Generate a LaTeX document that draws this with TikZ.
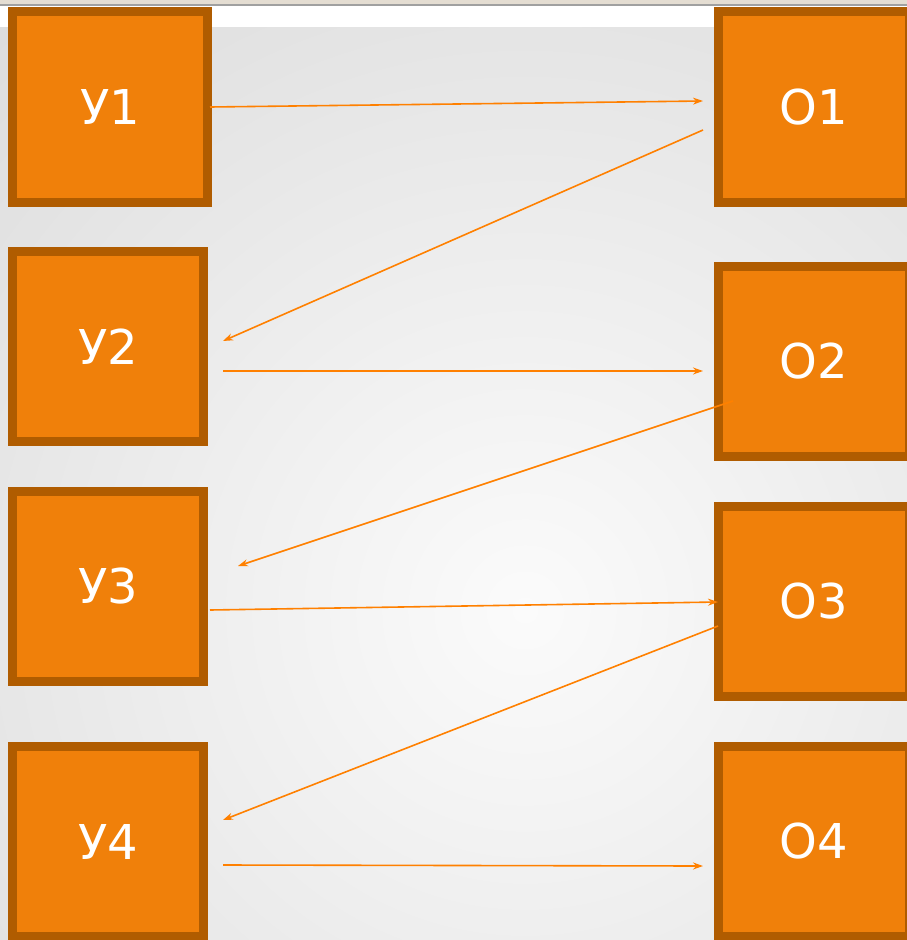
\documentclass[tikz,border=0pt]{standalone}
\usepackage{fontspec}
\setmainfont{DejaVu Sans}
\usetikzlibrary{calc,arrows.meta}
\definecolor{boxfill}{RGB}{240,128,10}
\definecolor{boxline}{RGB}{176,92,0}
\definecolor{arrcol}{RGB}{255,128,0}
\definecolor{bgin}{RGB}{251,251,251}
\definecolor{bgout}{RGB}{188,188,188}
\definecolor{topbeige}{RGB}{228,221,210}
\definecolor{topline}{RGB}{160,160,160}
\pgfdeclareradialshading{bgshade}{\pgfpoint{0bp}{0bp}}{color(0bp)=(bgin); color(50bp)=(bgout)}
\tikzset{
  sq/.style={draw=boxline, fill=boxfill, line width=9pt, outer sep=0pt, inner sep=0pt,
    text=white, font=\fontsize{48}{58}\selectfont, minimum width=191pt, minimum height=190pt},
  arr/.style={draw=arrcol, line width=1.6pt, -{Stealth[length=10pt,width=7pt]}}
}
\begin{document}
\begin{tikzpicture}[x=1pt,y=-1pt]
\useasboundingbox (0,0) rectangle (907,940);
\clip (0,0) rectangle (907,940);
% background
\shade[shading=bgshade] (525,610) circle (820);
\fill[white] (0,0) rectangle (907,27);
\fill[topbeige] (0,0) rectangle (907,4);
\fill[topline] (0,4) rectangle (907,6);
% boxes
\node[sq, minimum width=195pt, minimum height=191pt] (y1) at (110,107) {У1};
\node[sq, minimum height=190pt] (y2) at (108,346.5) {У2};
\node[sq, minimum height=190pt] (y3) at (108,586.5) {У3};
\node[sq, minimum height=190pt] (y4) at (108,841.5) {У4};
\node[sq, minimum height=191pt] (o1) at (814,107) {О1};
\node[sq, minimum height=190pt] (o2) at (814,361.5) {О2};
\node[sq, minimum height=190pt] (o3) at (814,601.5) {О3};
\node[sq, minimum height=190pt] (o4) at (814,841.5) {О4};
% connectors
\draw[arr] ($(y1.center)+(100,0)$) -- ($(o1.center)+(-111,-6)$);
\draw[arr] ($(o1.center)+(-111,23)$) -- ($(y2.center)+(115,-5.5)$);
\draw[arr] ($(y2.center)+(115,24.5)$) -- ($(o2.center)+(-111,9.5)$);
\draw[arr] ($(o2.center)+(-81,39.5)$) -- ($(y3.center)+(130,-20.5)$);
\draw[arr] ($(y3.center)+(102,23.5)$) -- ($(o3.center)+(-96,0.5)$);
\draw[arr] ($(o3.center)+(-96,24.5)$) -- ($(y4.center)+(115,-21.5)$);
\draw[arr] ($(y4.center)+(115,23.5)$) -- ($(o4.center)+(-111,24.5)$);
\end{tikzpicture}
\end{document}
